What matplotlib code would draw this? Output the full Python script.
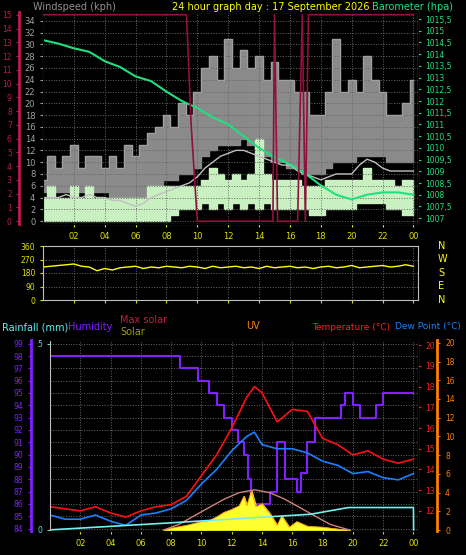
import numpy as np
import matplotlib.pyplot as plt

# ---- data ----
hours = list(range(25))
baro = [1014.6, 1014.45, 1014.25, 1014.1, 1013.7, 1013.45, 1013.05, 1012.85, 1012.4,
        1012.0, 1011.7, 1011.3, 1011.0, 1010.5, 1010.0, 1009.6, 1009.3, 1008.9, 1008.4,
        1008.0, 1007.8, 1008.0, 1008.1, 1008.1, 1008.0]

half = [h / 2 for h in range(49)]
wind_avg = [4, 4, 4, 4.5, 4, 4, 4.5, 4, 4, 3.5, 3.5, 3, 2.5, 3, 4, 4.5, 5, 5.5, 6, 6.5,
            7.5, 9, 10, 11, 11.5, 12, 12, 11.5, 11, 10.5, 10, 9.5, 9.5, 8.5, 8, 7.5,
            7, 7.5, 8, 8, 8, 9.5, 10.5, 10, 9, 8.5, 8.5, 8.5, 8.5]
gust_hi = [7, 11, 9, 11, 13, 9, 11, 11, 9, 11, 9, 13, 11, 13, 15, 16, 18, 16, 20, 18,
           22, 26, 28, 24, 31, 26, 29, 26, 28, 24, 27, 24, 24, 22, 22, 18, 18, 22, 31,
           22, 24, 22, 28, 24, 22, 18, 18, 20, 24]
gust_lo = [5, 5, 5, 5, 5, 5, 5, 5, 5, 4, 4, 3, 2, 3, 5, 6, 7, 7, 8, 8, 9, 11, 12,
           13, 13, 13, 14, 13, 12, 11, 10, 10, 9, 9, 8, 8, 8, 9, 10, 10, 10, 11, 11,
           11, 11, 10, 10, 10, 10]
speed_hi = [4, 6, 4, 4, 6, 4, 6, 4, 4, 4, 4, 4, 4, 4, 6, 6, 6, 6, 6, 6, 6, 7, 9, 8,
            7, 8, 7, 8, 14, 8, 7, 7, 7, 7, 6, 6, 6, 7, 7, 7, 7, 7, 9, 7, 7, 7, 6, 7, 7]
speed_lo = [0, 0, 0, 0, 0, 0, 0, 0, 0, 0, 0, 0, 0, 0, 0, 0, 0, 1, 2, 2, 2, 3, 2, 3,
            2, 3, 2, 3, 2, 3, 2, 2, 2, 2, 2, 1, 1, 2, 2, 2, 2, 3, 3, 3, 3, 2, 2, 1, 1]
rate_t = [0, 9.3, 9.6, 10.0, 14.9, 15.0, 15.2, 16.5, 16.8, 17.0, 17.2, 24]
rate_v = [15, 15, 7, 0, 0, 15, 0, 0, 15, 0, 15, 15]

wdir = [220, 225, 230, 235, 240, 225, 220, 195, 210, 200, 215, 220, 225, 210, 220,
        215, 225, 220, 215, 225, 220, 210, 225, 215, 220, 225, 215, 220, 210, 225,
        215, 220, 225, 215, 220, 210, 220, 225, 215, 220, 230, 215, 220, 225, 230,
        220, 225, 235, 225]

hum_t = [0, 8.6, 9.8, 10.5, 11.0, 11.5, 12.0, 12.4, 12.8, 13.1, 13.3, 14.0, 14.5,
         15.0, 15.5, 16.3, 16.6, 17.0, 17.5, 18.0, 19.2, 19.5, 20.0, 20.5, 21.5, 22.0, 24]
hum_v = [98, 97, 96, 95, 94, 93, 92, 91, 90, 88, 86, 86, 87, 91, 88, 87, 88.5, 91,
         93, 93, 94, 95, 94, 93, 94, 95, 95]
temp_t = [0, 1, 2, 3, 4, 5, 6, 7, 8, 9, 10, 11, 12, 13, 13.5, 14, 15, 16, 17, 18,
          19, 20, 21, 22, 23, 24]
temp = [12.2, 12.1, 12.0, 12.2, 11.9, 11.7, 12.0, 12.2, 12.3, 12.7, 13.7, 14.7, 16.0,
        17.5, 18.0, 17.7, 16.3, 16.9, 16.8, 15.5, 15.2, 14.7, 14.9, 14.5, 14.3, 14.5]
dew = [11.8, 11.6, 11.6, 11.8, 11.5, 11.3, 11.8, 11.9, 12.1, 12.5, 13.3, 14.0, 14.9,
       15.6, 15.8, 15.2, 15.0, 15.0, 14.8, 14.4, 14.2, 13.8, 13.9, 13.6, 13.5, 13.8]
rain_t = [0, 7.6, 17.2, 19.7, 24, 24.01]
rain_v = [0, 0.18, 0.42, 0.6, 0.6, 0]
solar_t = [7.5, 8, 9, 10, 10.5, 11, 11.5, 12, 12.5, 12.8, 13, 13.3, 13.6, 14, 14.5,
           15, 15.3, 15.8, 16.3, 17, 18, 19, 19.8]
solar_v = [0, 0.2, 0.5, 0.9, 1.0, 1.4, 1.9, 2.2, 2.6, 3.6, 2.6, 4.2, 2.5, 2.8, 1.8,
           0.5, 1.5, 0.3, 0.9, 0.4, 0.3, 0.1, 0]
maxsol_t = [7.5, 8.5, 9.5, 10.5, 11.5, 12.5, 13.5, 14.5, 15.5, 16.5, 17.5, 18.5, 19.8]
maxsol_v = [0, 0.6, 1.5, 2.4, 3.3, 4.0, 4.3, 4.0, 3.3, 2.4, 1.5, 0.6, 0]

xticks = [2, 4, 6, 8, 10, 12, 14, 16, 18, 20, 22, 24]
xlabels = ['02', '04', '06', '08', '10', '12', '14', '16', '18', '20', '22', '00']

W, H = 466, 555
fig = plt.figure(figsize=(W / 100, H / 100), dpi=100, facecolor='black')

def box(x0, y0, x1, y1):
    return [x0 / W, 1 - y1 / H, (x1 - x0) / W, (y1 - y0) / H]

def style(ax, xmax):
    ax.set_facecolor('black')
    ax.set_xlim(0, xmax)
    ax.set_xticks(xticks)
    ax.set_xticklabels(xlabels)
    ax.tick_params(axis='x', colors='#e0e000', labelsize=6, length=2)
    ax.grid(True, color='#666666', linestyle=':', linewidth=0.7)
    for s in ax.spines.values():
        s.set_color('#c0c0c0')

# ---- top panel ----
ax = fig.add_axes(box(43, 12, 418, 224))
style(ax, 24.3)
ax.set_ylim(-0.5, 35.5)
ax.set_yticks(range(0, 35, 2))
ax.tick_params(axis='y', colors='#a0a0a0', labelsize=6, length=2)
ax.fill_between(half, gust_lo, gust_hi, step='mid', color='#8a8a8a')
ax.plot(half, gust_hi, drawstyle='steps-mid', color='#a0a0a0', lw=0.8)
ax.fill_between(half, speed_lo, speed_hi, step='mid', color='#c8f0c0')
ax.plot(half, wind_avg, color='#c0c0c0', lw=1)

axr = ax.twinx()
axr.set_ylim(1006.75, 1015.8)
axr.set_yticks(np.arange(1007, 1015.6, 0.5))
axr.set_yticklabels([('%g' % v).replace('.', ',') for v in np.arange(1007, 1015.6, 0.5)])
axr.tick_params(axis='y', colors='#20e080', labelsize=5.5, length=2)
axr.spines['right'].set_color('#20e080')
axr.plot(hours, baro, color='#20e080', lw=1.5)

axl = ax.twinx()
axl.spines['left'].set_position(('outward', 17))
axl.spines['left'].set_color('#c01850')
axl.spines['left'].set_linewidth(2)
axl.yaxis.set_label_position('left')
axl.yaxis.set_ticks_position('left')
axl.set_ylim(-0.2, 15.2)
axl.set_yticks(range(16))
axl.tick_params(axis='y', colors='#c01850', labelsize=5.5, length=2)
axl.plot(rate_t, rate_v, color='#901040', lw=1.2)

fig.text(33 / W, 1 - 7 / H, 'Windspeed (kph)', color='#909090', fontsize=7, va='center')
fig.text(172 / W, 1 - 7 / H, '24 hour graph day : 17 September 2026', color='#ffff00',
         fontsize=7, va='center')
fig.text(372 / W, 1 - 7 / H, 'Barometer (hpa)', color='#20e080', fontsize=7, va='center')

# ---- middle panel ----
axm = fig.add_axes(box(43, 246, 418, 300))
style(axm, 24.3)
axm.set_ylim(0, 360)
axm.set_yticks([0, 90, 180, 270, 360])
axm.set_xticklabels([])
axm.tick_params(axis='y', colors='#e0e000', labelsize=5.5, length=2)
axm.plot(half, wdir, color='#ffff00', lw=1)
for i, lab in enumerate(['N', 'W', 'S', 'E', 'N']):
    fig.text(438 / W, 1 - (246 + i * 13.5) / H, lab, color='#ffff00', fontsize=7,
             va='center')

# ---- bottom panel ----
axb = fig.add_axes(box(50, 340, 418, 531))
style(axb, 24.3)
axb.set_ylim(83.8, 99.3)
axb.set_yticks(range(84, 100))
axb.tick_params(axis='y', colors='#8020ff', labelsize=5.5, length=2)
axb.spines['left'].set_position(('outward', 14))
axb.spines['left'].set_color('#8020ff')
axb.spines['left'].set_linewidth(2)
axb.plot(hum_t, hum_v, drawstyle='steps-post', color='#8020ff', lw=1.5)

axt = axb.twinx()
axt.set_ylim(11.03, 20.25)
axt.set_yticks(range(12, 21))
axt.tick_params(axis='y', colors='#ff2020', labelsize=5.5, length=2)
axt.spines['right'].set_color('#ff2020')
axt.plot(temp_t, temp, color='#ff1010', lw=1.2)
axt.plot(temp_t, dew, color='#1a80ff', lw=1.2)

axu = axb.twinx()
axu.set_ylim(-0.1, 20.3)
axu.set_yticks(range(0, 21, 2))
axu.spines['right'].set_position(('outward', 14))
axu.spines['right'].set_color('#ff8000')
axu.spines['right'].set_linewidth(2)
axu.tick_params(axis='y', colors='#ff8000', labelsize=5.5, length=2)
axu.fill_between(solar_t, 0, solar_v, color='#ffff30')
axu.plot(solar_t, solar_v, color='#ff9000', lw=0.6)
axu.plot(maxsol_t, maxsol_v, color='#d08080', lw=1)

axrn = axb.twinx()
axrn.spines['left'].set_visible(True)
axrn.spines['left'].set_color('#c0c0c0')
axrn.yaxis.set_ticks_position('left')
axrn.set_ylim(-0.03, 5.1)
axrn.set_yticks([0, 5])
axrn.tick_params(axis='y', colors='#60e0e0', labelsize=5.5, length=2)
axrn.plot(rain_t, rain_v, color='#70f0f0', lw=1.2)

fig.text(2 / W, 1 - 327 / H, 'Rainfall (mm)', color='#60f0f0', fontsize=7, va='center')
fig.text(68 / W, 1 - 327 / H, 'Humidity', color='#8020ff', fontsize=7, va='center')
fig.text(120 / W, 1 - 320 / H, 'Max solar', color='#c02040', fontsize=7, va='center')
fig.text(120 / W, 1 - 332 / H, 'Solar', color='#a0a000', fontsize=7, va='center')
fig.text(246 / W, 1 - 326 / H, 'UV', color='#ff8000', fontsize=7, va='center')
fig.text(312 / W, 1 - 327 / H, 'Temperature (°C)', color='#ff2020', fontsize=6.5,
         va='center')
fig.text(395 / W, 1 - 327 / H, 'Dew Point (°C)', color='#1a80ff', fontsize=6.5,
         va='center')

fig.savefig('out.png', dpi=100, facecolor='black')
